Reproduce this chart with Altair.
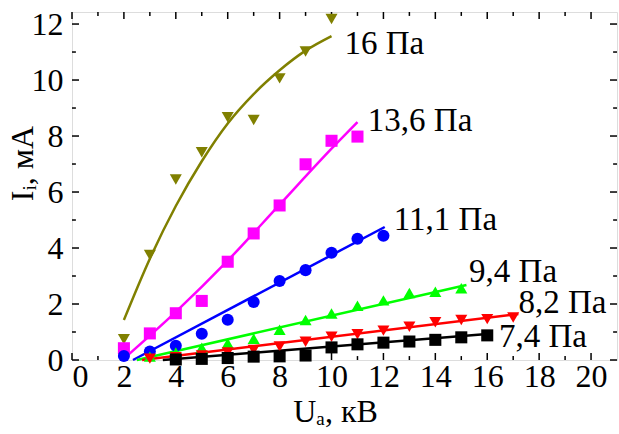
import altair as alt
import pandas as pd

# ---------------- data ----------------
series = ["16 Па", "13,6 Па", "11,1 Па", "9,4 Па", "8,2 Па", "7,4 Па"]
colors = ["#808000", "#ff00ff", "#0000ff", "#00ff00", "#ff0000", "#000000"]
shapes = ["triangle-down", "square", "circle", "triangle-up", "triangle-down", "square"]

x16 = [2, 3, 4, 5, 6, 7, 8, 9, 10]
y16 = [0.74, 3.75, 6.45, 7.42, 8.67, 8.57, 10.06, 11.02, 12.18]
x136 = [2, 3, 4, 5, 6, 7, 8, 9, 10, 11]
y136 = [0.42, 0.95, 1.67, 2.11, 3.51, 4.52, 5.52, 6.99, 7.83, 7.98]
x111 = [2, 3, 4, 5, 6, 7, 8, 9, 10, 11, 12]
y111 = [0.14, 0.30, 0.51, 0.94, 1.44, 2.07, 2.82, 3.21, 3.83, 4.33, 4.44]
x94 = [3, 4, 5, 6, 7, 8, 9, 10, 11, 12, 13, 14, 15]
y94 = [0.12, 0.27, 0.44, 0.60, 0.76, 1.08, 1.43, 1.66, 1.94, 2.13, 2.39, 2.44, 2.56]
x82 = [3, 4, 5, 6, 7, 8, 9, 10, 11, 12, 13, 14, 15, 16, 17]
y82 = [0.05, 0.10, 0.16, 0.27, 0.36, 0.48, 0.65, 0.83, 0.92, 1.05, 1.19, 1.35, 1.43, 1.46, 1.52]
x74 = [4, 5, 6, 7, 8, 9, 10, 11, 12, 13, 14, 15, 16]
y74 = [0.02, 0.04, 0.07, 0.12, 0.13, 0.16, 0.45, 0.56, 0.62, 0.66, 0.72, 0.81, 0.88]

# fitted curves
fx16 = [2, 3, 4, 5, 6, 7, 8, 9, 10]
fy16 = [1.43, 3.62, 5.50, 7.10, 8.45, 9.50, 10.35, 11.05, 11.57]
fx136 = [2.0, 4.0, 6.0, 8.0, 10.0, 11.0]
fy136 = [0.05, 1.72, 3.55, 5.55, 7.55, 8.50]
fx111 = [2.35, 12.05]
fy111 = [0.0, 4.75]
fx94 = [2.5, 15.2]
fy94 = [0.0, 2.68]
fx82 = [2.7, 17.2]
fy82 = [0.0, 1.64]
fx74 = [3.5, 16.0]
fy74 = [0.0, 0.93]

# series label anchors (data units)
lab_x = [10.5, 11.4, 12.4, 15.3, 17.2, 16.45]
lab_y = [11.3, 8.55, 5.0, 3.14, 2.04, 0.82]

x_ticks = list(range(0, 21))
y_ticks = list(range(0, 13))
x_labels = list(range(0, 21, 2))
y_labels = list(range(0, 13, 2))

XMAX = 21.0
YMAX = 12.43

pts_x = [x16, x136, x111, x94, x82, x74]
pts_y = [y16, y136, y111, y94, y82, y74]
fit_x = [fx16, fx136, fx111, fx94, fx82, fx74]
fit_y = [fy16, fy136, fy111, fy94, fy82, fy74]

pts = pd.DataFrame([
    {"s": s, "x": x, "y": y}
    for s, xs, ys in zip(series, pts_x, pts_y) for x, y in zip(xs, ys)
])
fits = pd.DataFrame([
    {"s": s, "x": x, "y": y, "o": i}
    for s, xs, ys in zip(series, fit_x, fit_y) for i, (x, y) in enumerate(zip(xs, ys))
])
labs = pd.DataFrame({"s": series, "x": lab_x, "y": lab_y})

FONT = "Liberation Serif"

xscale = alt.Scale(domain=[0, XMAX], nice=False, zero=False)
yscale = alt.Scale(domain=[0, YMAX], nice=False, zero=False)
cscale = alt.Scale(domain=series, range=colors)
sscale = alt.Scale(domain=series, range=shapes)

xaxis = alt.Axis(values=x_labels, ticks=False, domain=False, grid=False,
                 labelFont=FONT, labelFontSize=32, labelColor="black",
                 labelPadding=1, title="Uₐ, кВ", titleFont=FONT,
                 titleFontSize=32, titleFontWeight="normal", titleColor="black",
                 titleX=263, titleY=61, titleBaseline="alphabetic")
yaxis = alt.Axis(values=y_labels, ticks=False, domain=False, grid=False,
                 labelFont=FONT, labelFontSize=32, labelColor="black",
                 labelPadding=9, title="Iᵢ, мА", titleFont=FONT,
                 titleFontSize=32, titleFontWeight="normal", titleColor="black",
                 titleX=-40, titleY=151, titleBaseline="alphabetic")

lines = alt.Chart(fits).mark_line(strokeWidth=2.5, interpolate="monotone").encode(
    x=alt.X("x:Q", scale=xscale, axis=xaxis),
    y=alt.Y("y:Q", scale=yscale, axis=yaxis),
    color=alt.Color("s:N", scale=cscale, legend=None),
    detail="s:N",
    order="o:Q",
)

points = alt.Chart(pts).mark_point(filled=True, opacity=1, size=145).encode(
    x="x:Q",
    y="y:Q",
    color=alt.Color("s:N", scale=cscale, legend=None),
    shape=alt.Shape("s:N", scale=sscale, legend=None),
)

texts = alt.Chart(labs).mark_text(font=FONT, fontSize=33, align="left",
                                  baseline="middle", color="black").encode(
    x="x:Q", y="y:Q", text="s:N"
)

# inward ticks on all four sides
tk = []
for v in x_ticks:
    L = 0.25 if v % 2 == 0 else 0.14
    tk.append({"x": v, "x2": v, "y": 0, "y2": L})
    tk.append({"x": v, "x2": v, "y": YMAX, "y2": YMAX - L})
for v in y_ticks:
    L = 0.27 if v % 2 == 0 else 0.15
    tk.append({"x": 0, "x2": L, "y": v, "y2": v})
    tk.append({"x": XMAX, "x2": XMAX - L, "y": v, "y2": v})
ticks = alt.Chart(pd.DataFrame(tk)).mark_rule(color="black", strokeWidth=1.5).encode(
    x="x:Q", x2="x2:Q", y="y:Q", y2="y2:Q"
)

chart = alt.layer(ticks, lines, points, texts).properties(
    width=545, height=348,
    padding={"left": 72, "top": 12, "right": 2, "bottom": 74},
    autosize=alt.AutoSizeParams(type="none"),
).configure_view(stroke="black", strokeWidth=1.5).configure(background="white")

chart.save("out.html", embed_options={"renderer": "svg", "actions": False})
